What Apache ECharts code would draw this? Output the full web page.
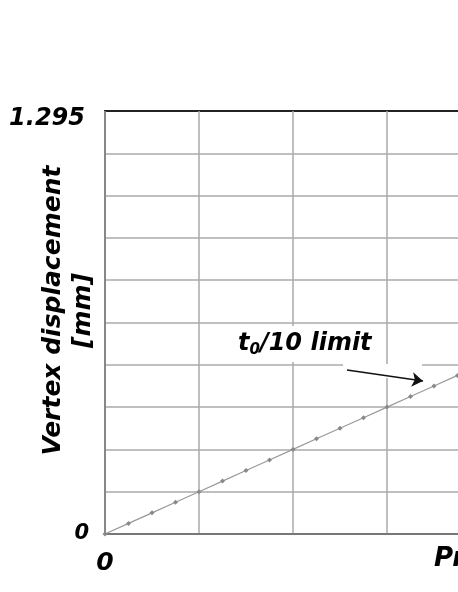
<!DOCTYPE html>
<html>
<head>
<meta charset="utf-8">
<script src="https://cdn.jsdelivr.net/npm/echarts@6/dist/echarts.min.js"></script>
<style>
html,body{margin:0;padding:0;background:#fff;}
#c{width:458px;height:592px;}
</style>
</head>
<body>
<div id="c"></div>
<script>
// Pressure in grid-cell units (x axis is cropped in the reference)
var pressure = [0, 0.25, 0.5, 0.75, 1, 1.25, 1.5, 1.75, 2, 2.25, 2.5, 2.75, 3, 3.25, 3.5, 3.75, 4];
var displacement = [0, 0.0324, 0.0648, 0.0971, 0.1295, 0.1619, 0.1943, 0.2266, 0.259, 0.2914, 0.3238, 0.3561, 0.3885, 0.4209, 0.4533, 0.4856, 0.518];
var yMin = 0, yMax = 1.295, yInterval = 0.1295;
var xMin = 0, xMax = 5, xInterval = 1;
var annotationText = 'limit';

var FONT = '"DejaVu Sans", Verdana, sans-serif';
var chart = echarts.init(document.getElementById('c'), null, {renderer: 'canvas'});
var data = pressure.map(function (p, i) { return [p, displacement[i]]; });

chart.setOption({
  animation: false,
  backgroundColor: '#fff',
  grid: {left: 105, top: 111, width: 470, height: 423, containLabel: false, outerBoundsMode: 'none',
         show: true, borderColor: '#222', borderWidth: 2, backgroundColor: 'transparent', z: 3},
  xAxis: {
    type: 'value', min: xMin, max: xMax, interval: xInterval, z: 4,
    axisLine: {show: true, lineStyle: {color: '#777', width: 2}},
    axisTick: {show: false},
    splitLine: {show: true, lineStyle: {color: '#aaa', width: 1.5}},
    axisLabel: {
      margin: 17, color: '#000', fontFamily: FONT, fontWeight: 'bold', fontStyle: 'italic', fontSize: 25,
      formatter: function (v) { return v === 0 ? '0' : ''; }
    }
  },
  yAxis: {
    type: 'value', min: yMin, max: yMax, interval: yInterval,
    axisLine: {show: true, lineStyle: {color: '#333', width: 2}},
    axisTick: {show: false},
    splitLine: {show: true, lineStyle: {color: '#aaa', width: 1.5}},
    name: 'Vertex displacement\n[mm]',
    nameLocation: 'middle', nameRotate: 90, nameGap: 7, nameMoveOverlap: false,
    nameTextStyle: {color: '#000', fontFamily: FONT, fontWeight: 'bold', fontStyle: 'italic', fontSize: 25, lineHeight: 30, align: 'center', padding: [0, 0, 0, 24]},
    axisLabel: {
      margin: 16, color: '#000', fontFamily: FONT, fontWeight: 'bold', fontStyle: 'italic',
      formatter: function (v) {
        var k = String(Math.round(v * 10000) / 10000);
        if (k === '0') return '{z|0}';
        if (k === '1.295') return '{m|1.295}';
        return '';
      },
      rich: {
        z: {fontFamily: FONT, fontWeight: 'bold', fontStyle: 'italic', fontSize: 21, color: '#000'},
        m: {fontFamily: FONT, fontWeight: 'bold', fontStyle: 'italic', fontSize: 24, color: '#000', padding: [16, 4, 0, 0]}
      }
    }
  },
  graphic: [
    {type: 'rect', z: 5, shape: {x: 343, y: 364, width: 79, height: 14}, style: {fill: '#fff'}},
    {type: 'text', z: 5, x: 232, y: 326,
      style: {
        text: '{t|t}{s|0}{t|/10 ' + annotationText + '}',
        backgroundColor: '#fff', padding: [2, 6, 2, 6],
        rich: {
          t: {fontFamily: FONT, fontWeight: 'bold', fontStyle: 'italic', fontSize: 24, fill: '#000', lineHeight: 32},
          s: {fontFamily: FONT, fontWeight: 'bold', fontStyle: 'italic', fontSize: 15, fill: '#000', padding: [12, 0, 0, 0], lineHeight: 32}
        }
      }
    },
    {type: 'text', z: 5, x: 434, y: 546,
      style: {text: 'Pressure [MPa]', font: 'italic bold 26px ' + FONT, fill: '#000'}
    }
  ],
  series: [{
    type: 'line',
    data: data,
    symbol: 'diamond', symbolSize: 5, showSymbol: true,
    itemStyle: {color: '#888'},
    lineStyle: {color: '#999', width: 1.2},
    silent: true,
    z: 6,
    markLine: {
      silent: true, animation: false,
      symbol: ['none', 'arrow'], symbolSize: 11,
      label: {show: false},
      lineStyle: {color: '#111', width: 1.6, type: 'solid'},
      data: [[{x: 347, y: 370}, {x: 423, y: 381}]]
    }
  }]
});
</script>
</body>
</html>
